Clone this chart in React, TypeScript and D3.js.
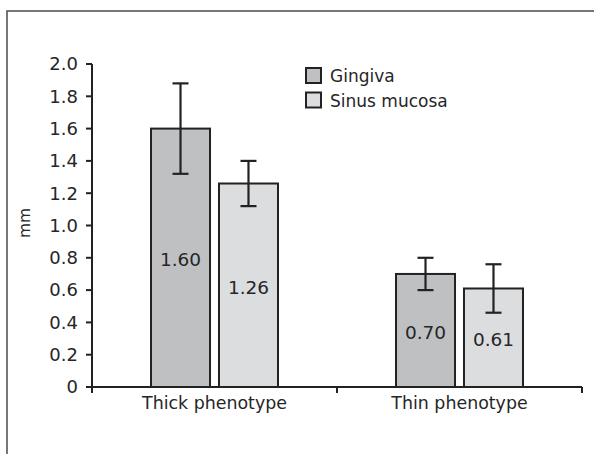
import React, { useEffect, useRef } from "react";
import * as d3 from "d3";

const categories = ["Thick phenotype", "Thin phenotype"];
const seriesNames = ["Gingiva", "Sinus mucosa"];
const gingiva = [1.6, 0.7];
const sinusMucosa = [1.26, 0.61];
const gingivaErr = [0.28, 0.1];
const sinusErr = [0.14, 0.15];
const valueLabels = [
  ["1.60", "0.70"],
  ["1.26", "0.61"],
];
const yTicks = [0, 0.2, 0.4, 0.6, 0.8, 1.0, 1.2, 1.4, 1.6, 1.8, 2.0];
const colors = ["#bfc0c2", "#dcdddf"];

const FONT = "'DejaVu Sans', sans-serif";
const TEXT = "#262626";

const App = () => {
  const graphRef = useRef<SVGSVGElement>(null);

  useEffect(() => {
    const svg = d3.select(graphRef.current);
    svg.selectAll("*").remove();

    const W = 594;
    const H = 454;

    // outer frame
    svg
      .append("rect")
      .attr("x", 7)
      .attr("y", 11)
      .attr("width", W + 20)
      .attr("height", H + 20)
      .attr("fill", "white")
      .attr("stroke", "#555")
      .attr("stroke-width", 1.6);

    const x0 = d3.scaleBand().domain(categories).range([92, 582]);
    const x1 = d3
      .scaleBand()
      .domain(seriesNames)
      .range([0, x0.bandwidth()])
      .paddingInner(0.132)
      .paddingOuter(0.868);
    const y = d3.scaleLinear().domain([0, 2]).range([387, 64]);

    const data = seriesNames.map((s, si) => ({
      name: s,
      values: si === 0 ? gingiva : sinusMucosa,
      errs: si === 0 ? gingivaErr : sinusErr,
      labels: valueLabels[si],
      color: colors[si],
    }));

    // bars
    data.forEach((s) => {
      const g = svg.append("g");
      g.selectAll("rect")
        .data(categories)
        .enter()
        .append("rect")
        .attr("x", (c) => (x0(c) as number) + (x1(s.name) as number))
        .attr("y", (c, i) => y(s.values[i]))
        .attr("width", x1.bandwidth())
        .attr("height", (c, i) => y(0) - y(s.values[i]))
        .attr("fill", s.color)
        .attr("stroke", "#222")
        .attr("stroke-width", 2);

      // value labels
      g.selectAll("text")
        .data(categories)
        .enter()
        .append("text")
        .attr("x", (c) => (x0(c) as number) + (x1(s.name) as number) + x1.bandwidth() / 2)
        .attr("y", (c, i) => (y(s.values[i]) + y(0)) / 2 + 2)
        .attr("dy", "0.35em")
        .attr("text-anchor", "middle")
        .attr("font-family", FONT)
        .attr("font-size", 18.5)
        .attr("fill", TEXT)
        .text((c, i) => s.labels[i]);

      // error bars
      categories.forEach((c, i) => {
        const cx = (x0(c) as number) + (x1(s.name) as number) + x1.bandwidth() / 2;
        const hi = y(s.values[i] + s.errs[i]);
        const lo = y(s.values[i] - s.errs[i]);
        const eb = g.append("g").attr("stroke", "#222").attr("stroke-width", 2.2);
        eb.append("line").attr("x1", cx).attr("x2", cx).attr("y1", hi).attr("y2", lo);
        eb.append("line").attr("x1", cx - 8).attr("x2", cx + 8).attr("y1", hi).attr("y2", hi);
        eb.append("line").attr("x1", cx - 8).attr("x2", cx + 8).attr("y1", lo).attr("y2", lo);
      });
    });

    // y axis
    const yAxis = svg.append("g").attr("stroke", "#222").attr("stroke-width", 2);
    yAxis.append("line").attr("x1", 92).attr("x2", 92).attr("y1", y(2)).attr("y2", y(0) + 6);
    yAxis
      .selectAll("line.tick")
      .data(yTicks)
      .enter()
      .append("line")
      .attr("class", "tick")
      .attr("x1", 86)
      .attr("x2", 92)
      .attr("y1", (d) => y(d))
      .attr("y2", (d) => y(d));
    svg
      .append("g")
      .selectAll("text")
      .data(yTicks)
      .enter()
      .append("text")
      .attr("x", 78)
      .attr("y", (d) => y(d))
      .attr("dy", "0.35em")
      .attr("text-anchor", "end")
      .attr("font-family", FONT)
      .attr("font-size", 18)
      .attr("fill", TEXT)
      .text((d) => (d === 0 ? "0" : d.toFixed(1)));

    // x axis
    const xAxis = svg.append("g").attr("stroke", "#222").attr("stroke-width", 2);
    xAxis.append("line").attr("x1", 92).attr("x2", 582).attr("y1", y(0)).attr("y2", y(0));
    const xTickPos = [92, ...categories.map((c) => (x0(c) as number) + x0.bandwidth())];
    xAxis
      .selectAll("line.tick")
      .data(xTickPos)
      .enter()
      .append("line")
      .attr("class", "tick")
      .attr("x1", (d) => d)
      .attr("x2", (d) => d)
      .attr("y1", y(0))
      .attr("y2", y(0) + 6);
    svg
      .append("g")
      .selectAll("text")
      .data(categories)
      .enter()
      .append("text")
      .attr("x", (c) => (x0(c) as number) + x0.bandwidth() / 2)
      .attr("y", 409)
      .attr("text-anchor", "middle")
      .attr("font-family", FONT)
      .attr("font-size", 17.4)
      .attr("fill", TEXT)
      .text((c) => c);

    // y axis title
    svg
      .append("text")
      .attr("transform", "translate(25, 223) rotate(-90)")
      .attr("text-anchor", "middle")
      .attr("dy", "0.35em")
      .attr("font-family", FONT)
      .attr("font-size", 15.5)
      .attr("fill", TEXT)
      .text("mm");

    // legend
    const legend = svg
      .append("g")
      .selectAll("g")
      .data(data)
      .enter()
      .append("g")
      .attr("transform", (d, i) => `translate(306, ${68 + i * 24.5})`);
    legend
      .append("rect")
      .attr("width", 15)
      .attr("height", 15)
      .attr("fill", (d) => d.color)
      .attr("stroke", "#222")
      .attr("stroke-width", 2);
    legend
      .append("text")
      .attr("x", 24)
      .attr("y", 14)
      .attr("font-family", FONT)
      .attr("font-size", 17)
      .attr("fill", TEXT)
      .text((d) => d.name);
  }, []);

  return (
    <svg
      ref={graphRef}
      width={594}
      height={454}
      style={{ position: "absolute", left: 0, top: 0, display: "block" }}
    />
  );
};

export default App;
